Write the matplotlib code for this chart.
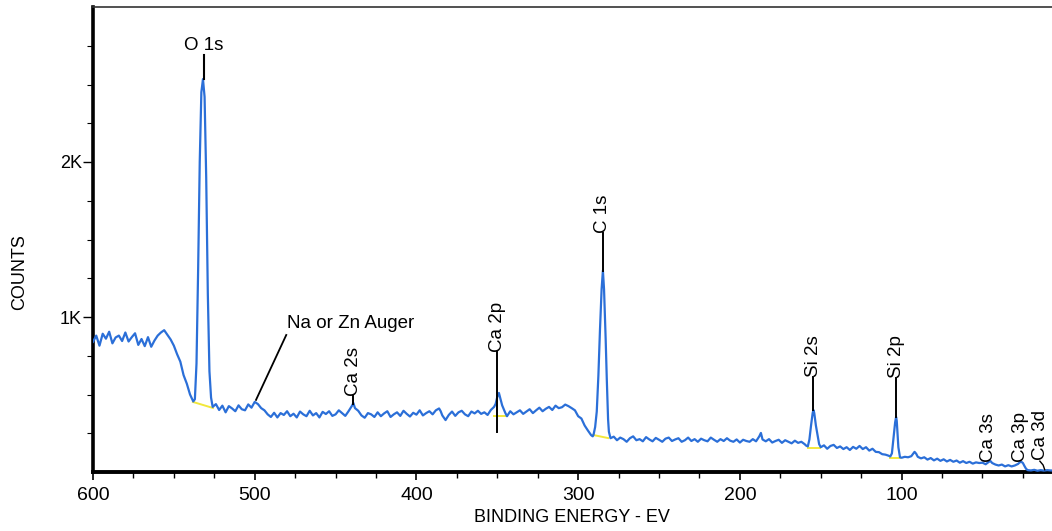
import matplotlib
matplotlib.use("Agg")
import matplotlib.pyplot as plt
from matplotlib.ticker import FixedLocator

plt.rcParams['font.family'] = ['Liberation Sans', 'DejaVu Sans']

# Binding energy (eV) and counts
binding_energy = [
    600, 598, 596, 594, 592, 590, 588, 586, 584, 582, 580, 578, 576, 574, 572, 570,
    568, 566, 564, 562, 560, 558, 556, 554, 552, 550, 548, 546, 544, 542, 540, 538,
    537, 536, 535, 534, 533, 532, 531, 530, 529, 528, 527, 526, 524, 522, 520, 518,
    516, 514, 512, 510, 508, 506, 504, 502, 500, 498, 496, 494, 492, 490, 488, 486,
    484, 482, 480, 478, 476, 474, 472, 470, 468, 466, 464, 462, 460, 458, 456, 454,
    452, 450, 448, 446, 444, 442, 440, 439, 438, 436, 434, 432, 430, 428, 426, 424,
    422, 420, 418, 416, 414, 412, 410, 408, 406, 404, 402, 400, 398, 396, 394, 392,
    390, 388, 386, 385, 384, 382, 380, 378, 376, 374, 372, 370, 368, 366, 364, 362,
    360, 358, 356, 354, 352, 351, 350, 349, 348, 347, 346, 345, 344, 342, 340, 338,
    336, 334, 332, 330, 328, 326, 324, 322, 320, 318, 316, 314, 312, 310, 308, 306,
    304, 302, 300, 298, 296, 294, 292, 291, 290.5, 289.5, 288.5, 287.5, 286.5, 285.5, 284.7, 284,
    283, 282.3, 281.5, 281, 280, 278, 276, 274, 272, 270, 268, 266, 264, 262, 260, 258,
    256, 254, 252, 250, 248, 246, 244, 242, 240, 238, 236, 234, 232, 230, 228, 226,
    224, 222, 220, 218, 216, 214, 212, 210, 208, 206, 204, 202, 200, 198, 196, 194,
    192, 190, 188, 187, 186, 184, 182, 180, 178, 176, 174, 172, 170, 168, 166, 164,
    162, 160, 159, 158, 157, 156, 155, 154.5, 154, 153, 152, 151, 150, 148, 146, 144,
    142, 140, 138, 136, 134, 132, 130, 128, 126, 124, 122, 120, 118, 116, 114, 112,
    110, 108, 107, 106, 105, 104, 103.4, 103, 102.5, 102, 101, 100, 98, 96, 94, 92,
    91, 90, 88, 86, 84, 82, 80, 78, 76, 74, 72, 70, 68, 66, 64, 62,
    60, 58, 56, 54, 52, 50, 48, 46, 45, 44, 42, 40, 38, 36, 34, 32,
    30, 28, 27, 26, 25, 24, 23, 22, 20, 18, 16, 14, 12, 10, 8, 6,
]
counts = [
    840, 880, 815, 892, 860, 905, 830, 868, 880, 845, 900, 842, 870, 895, 820, 858,
    812, 870, 808, 848, 880, 900, 915, 885, 855, 815, 760, 712, 625, 570, 500, 455,
    470, 700, 1300, 2000, 2450, 2535, 2420, 1900, 1150, 650, 480, 420, 438, 400, 428, 385,
    425, 410, 392, 430, 405, 398, 436, 415, 452, 438, 412, 398, 372, 355, 382, 352,
    380, 368, 392, 360, 376, 352, 390, 372, 360, 395, 365, 380, 352, 388, 374, 392,
    362, 372, 398, 380, 362, 392, 425, 445, 412, 395, 365, 350, 380, 372, 355, 385,
    360, 378, 392, 355, 372, 385, 362, 395, 375, 358, 382, 370, 398, 365, 380, 392,
    372, 398, 410, 392, 365, 335, 368, 390, 362, 385, 395, 372, 360, 390, 378, 395,
    375, 385, 368, 400, 420, 440, 485, 510, 470, 430, 405, 380, 360, 392, 372, 385,
    398, 375, 390, 405, 380, 398, 415, 392, 408, 420, 400, 428, 412, 418, 435, 425,
    412, 398, 360, 345, 300, 268, 238, 230, 240, 290, 390, 620, 920, 1180, 1300, 1180,
    860, 600, 340, 260, 218, 228, 205, 222, 212, 195, 218, 230, 205, 212, 198, 225,
    210, 198, 220, 208, 195, 215, 222, 200, 210, 218, 195, 205, 222, 200, 212, 195,
    215, 205, 198, 222, 208, 195, 212, 200, 218, 202, 195, 210, 190, 208, 200, 195,
    212, 198, 230, 252, 210, 198, 212, 190, 200, 208, 188, 205, 195, 185, 202, 188,
    195, 180, 170, 165, 210, 300, 380, 400, 380, 300, 240, 180, 160, 172, 150, 168,
    175, 155, 165, 148, 160, 142, 162, 150, 168, 148, 160, 138, 150, 130, 128, 115,
    112, 105, 100, 120, 220, 320, 355, 330, 240, 160, 95, 92, 98, 95, 102, 130,
    118, 98, 88, 95, 80, 90, 75, 86, 72, 82, 68, 78, 66, 74, 60, 70,
    58, 66, 54, 62, 58, 60, 50, 66, 70, 58, 48, 42, 48, 36, 44, 36,
    42, 52, 62, 66, 58, 38, 20, 12, 10, 14, 8, 12, 9, 12, 10, 9,
]

# Yellow background segments under the fitted peaks
bg_start_ev = [538.2, 352, 290.8, 158, 107]
bg_start_ct = [452, 361, 239, 155, 90]
bg_end_ev = [525.8, 344, 281.5, 150.5, 101]
bg_end_ct = [413, 361, 219, 155, 90]

# Rotated peak labels: name, eV, leader line bottom, leader line top (= text bottom)
rot_names = ["Ca 2s", "Ca 2p", "C 1s", "Si 2s", "Si 2p", "Ca 3s", "Ca 3p", "Ca 3d"]
rot_ev = [439, 350, 284.7, 154.5, 103.4, 46.5, 26.7, 14]
rot_line_lo = [440, 258, 1300, 400, 355, None, None, None]
rot_line_hi = [490, 774, 1542, 613, 606, 65, 65, 75]

W, H = 1052, 531
fig = plt.figure(figsize=(W / 100, H / 100), dpi=100)
ax = fig.add_axes([93 / W, (H - 472) / H, 1 - 93 / W, (472 - 7) / H])

ax.plot(binding_energy, counts, color="#2b6fd8", lw=1.6, zorder=3)
for x0, y0, x1, y1 in zip(bg_start_ev, bg_start_ct, bg_end_ev, bg_end_ct):
    ax.plot([x0, x1], [y0, y1], color="#f2e83a", lw=1.4, zorder=2)

lab_fs = 13.5
# O 1s
ax.plot([531.5, 531.5], [2535, 2690], color="black", lw=1.5, zorder=4)
ax.text(531.5, 2725, "O 1s", ha="center", va="baseline", fontsize=lab_fs)
# Na or Zn Auger
ax.plot([499.2, 480.5], [465, 884], color="black", lw=1.3, zorder=4)
ax.text(480, 929, "Na or Zn Auger", ha="left", va="baseline", fontsize=lab_fs)

for name, ev, lo, hi in zip(rot_names, rot_ev, rot_line_lo, rot_line_hi):
    if lo is not None:
        ax.plot([ev, ev], [lo, hi], color="black", lw=1.4, zorder=4)
    ax.text(ev, hi, name, rotation=90, ha="center", va="bottom", fontsize=lab_fs)
ax.plot([14.5, 12.5, 11.5], [70, 45, 15], color="black", lw=1.0, zorder=4)

ax.set_xlim(600, 7)
ax.set_ylim(0, 3000)

ax.xaxis.set_major_locator(FixedLocator([600, 500, 400, 300, 200, 100]))
ax.xaxis.set_minor_locator(FixedLocator([575, 550, 525, 475, 450, 425, 375, 350, 325,
                                         275, 250, 225, 175, 150, 125, 75, 50, 25]))
ax.yaxis.set_major_locator(FixedLocator([1000, 2000]))
ax.yaxis.set_minor_locator(FixedLocator([250, 500, 750, 1250, 1500, 1750, 2250, 2500, 2750]))
ax.set_yticklabels(["1K", "2K"], fontsize=13)
ax.set_xticklabels(["600", "500", "400", "300", "200", "100"], fontsize=14)

ax.tick_params(axis="x", which="major", direction="out", length=6, width=1.2, pad=5)
ax.tick_params(axis="x", which="minor", direction="out", length=4, width=1.0)
ax.tick_params(axis="y", which="major", direction="out", length=7, width=1.0, pad=1)
ax.tick_params(axis="y", which="minor", direction="out", length=4, width=0.8)

ax.spines["left"].set_linewidth(2.6)
ax.spines["bottom"].set_linewidth(2.8)
ax.spines["top"].set_linewidth(1.2)
ax.spines["top"].set_color("#333333")
ax.spines["right"].set_visible(False)

fig.text(20 / W, 1 - 272 / H, "COUNTS", rotation=90, ha="center", va="center", fontsize=13)
fig.text(572 / W, 1 - 518 / H, "BINDING ENERGY - EV", ha="center", va="center", fontsize=13)

fig.savefig("out.png", dpi=100)
